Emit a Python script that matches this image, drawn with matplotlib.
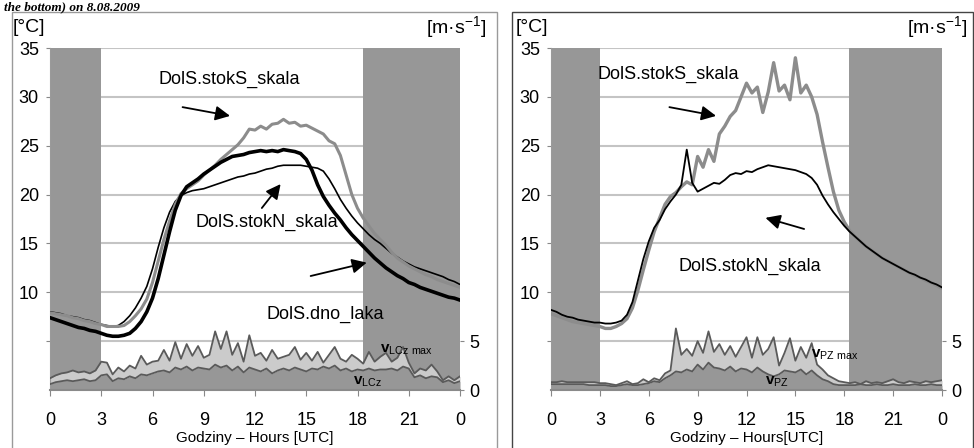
import numpy as np
import matplotlib
matplotlib.use("Agg")
import matplotlib.pyplot as plt
from matplotlib.patches import Rectangle

plt.rcParams['font.family'] = ['Liberation Sans', 'DejaVu Sans']
plt.rcParams['mathtext.fontset'] = 'custom'
plt.rcParams['mathtext.rm'] = 'Liberation Sans'
plt.rcParams['mathtext.bf'] = 'Liberation Sans:bold'

# 20-minute time steps, 0..24 h
hours = np.arange(73) / 3.0
xtick_pos = [0, 3, 6, 9, 12, 15, 18, 21, 24]
xtick_lab = ['0', '3', '6', '9', '12', '15', '18', '21', '0']
night = [(0, 3.0), (18.3, 24)]

# --- left panel: DolS ---
L_stokS = [7.9, 7.8, 7.7, 7.6, 7.4, 7.3, 7.1, 7.0, 6.8, 6.7,
           6.5, 6.5, 6.5, 6.6, 7.0, 7.6, 8.3, 9.3, 11.0, 13.2,
           15.4, 17.3, 19.0, 20.1, 20.6, 21.0, 21.4, 22.0, 22.5, 23.0,
           23.6, 24.1, 24.6, 25.1, 25.8, 26.7, 26.6, 27.0, 26.7, 27.2,
           27.3, 27.7, 27.3, 27.4, 27.0, 27.1, 26.8, 26.5, 26.2, 25.5,
           25.2, 24.0, 22.0, 20.0, 18.6, 17.6, 16.8, 16.0, 15.4, 14.8,
           14.1, 13.5, 13.1, 12.7, 12.4, 12.1, 11.8, 11.6, 11.3, 11.1,
           10.9, 10.7, 10.5]
L_stokN = [8.0, 7.9, 7.8, 7.6, 7.5, 7.4, 7.2, 7.1, 6.9, 6.7,
           6.6, 6.5, 6.6, 7.0, 7.6, 8.4, 9.4, 10.6, 12.4, 14.6,
           16.6, 18.2, 19.3, 19.9, 20.2, 20.4, 20.5, 20.6, 20.8, 21.0,
           21.2, 21.4, 21.6, 21.8, 21.9, 22.1, 22.2, 22.4, 22.6, 22.7,
           22.9, 23.0, 23.0, 23.0, 23.0, 22.9, 22.8, 22.7, 22.4, 21.6,
           20.6, 19.5, 18.6, 17.8, 17.1, 16.5, 15.9, 15.4, 15.0, 14.5,
           14.0, 13.6, 13.2, 12.9, 12.6, 12.4, 12.2, 12.0, 11.8, 11.6,
           11.3, 11.1, 10.8]
L_dno = [7.4, 7.2, 7.0, 6.8, 6.6, 6.4, 6.3, 6.1, 6.0, 5.8,
         5.6, 5.5, 5.5, 5.6, 5.8, 6.3, 7.0, 8.0, 9.4, 11.4,
         13.8, 16.2, 18.4, 19.9, 20.8, 21.2, 21.6, 22.1, 22.5, 22.9,
         23.3, 23.6, 23.9, 24.0, 24.1, 24.3, 24.4, 24.5, 24.4, 24.5,
         24.4, 24.6, 24.5, 24.4, 24.2, 23.6, 22.5, 21.0, 19.8, 18.9,
         18.1, 17.4, 16.6, 15.9, 15.3, 14.7, 14.1, 13.5, 13.0, 12.5,
         12.1, 11.7, 11.4, 11.0, 10.8, 10.5, 10.3, 10.1, 9.9, 9.7,
         9.5, 9.4, 9.2]
L_vmax = [1.2, 1.5, 1.7, 1.8, 2.0, 1.8, 1.9, 1.7, 2.0, 2.9,
          2.8, 1.6, 2.3, 1.9, 2.5, 2.2, 3.5, 2.6, 2.9, 3.0,
          4.1, 3.0, 4.9, 3.2, 4.7, 3.5, 4.5, 3.3, 3.6, 6.0,
          4.2, 6.0, 3.6, 4.8, 2.9, 5.6, 3.5, 3.8, 3.0, 4.1,
          3.2, 3.4, 3.6, 4.4, 3.1, 3.8, 3.0, 3.9, 2.8, 3.6,
          4.4, 3.2, 2.9, 3.6, 3.2, 2.7, 3.9, 2.9, 3.4, 3.8,
          2.9, 3.3, 4.4, 2.8, 1.7, 2.2, 2.0, 2.6, 1.9, 1.0,
          1.4, 1.0, 1.4]
L_v = [0.6, 0.8, 0.9, 1.0, 0.9, 1.0, 1.1, 0.9, 1.0, 1.5,
       1.6, 0.9, 1.2, 1.1, 1.4, 1.2, 1.6, 1.5, 1.7, 1.9,
       2.0, 1.8, 2.3, 2.1, 2.4, 2.0, 2.3, 2.2, 2.1, 2.6,
       2.3, 2.5, 2.0, 2.4, 1.8, 2.3, 2.1, 1.9, 2.2, 1.7,
       2.0, 2.2, 2.0, 2.3, 2.1, 1.9, 2.2, 2.1, 2.4, 2.2,
       2.5, 2.0, 2.2, 1.9, 2.1, 2.0, 2.2, 2.0, 2.1, 2.1,
       2.2, 2.0, 2.4, 2.2, 1.3, 1.5, 1.2, 1.4, 1.3, 0.8,
       1.0, 0.7, 0.9]

# --- right panel ---
R_stokS = [7.8, 7.6, 7.4, 7.2, 7.0, 6.9, 6.8, 6.7, 6.6, 6.5,
           6.3, 6.3, 6.5, 6.8, 7.3, 8.4, 10.2, 12.3, 14.3, 16.2,
           17.6, 19.0, 19.8, 20.2, 20.8, 21.3, 21.0, 23.9, 22.8, 24.6,
           23.4, 26.2, 27.0, 28.0, 28.6, 30.0, 31.4, 30.4, 31.0, 28.4,
           30.5, 33.5, 30.6, 31.2, 29.7, 34.0, 30.4, 31.2, 30.0, 28.2,
           25.4, 22.8, 20.3, 18.4, 17.2, 16.3, 15.7, 15.2, 14.7, 14.3,
           13.9, 13.5, 13.2, 12.9, 12.6, 12.3, 12.0, 11.7, 11.5, 11.2,
           11.0, 10.7, 10.4]
R_stokN = [8.2, 8.0, 7.7, 7.5, 7.4, 7.2, 7.1, 7.0, 6.9, 6.9,
           6.8, 6.8, 6.9, 7.1, 7.7, 9.0, 11.2, 13.4, 15.2, 16.6,
           17.4, 18.5, 19.3, 20.0, 21.0, 24.6, 21.2, 20.3, 20.6, 20.9,
           21.2, 21.1, 21.5, 22.0, 22.2, 22.1, 22.4, 22.3, 22.6, 22.8,
           23.0, 22.9, 22.8, 22.7, 22.6, 22.5, 22.3, 22.1, 21.7, 21.0,
           19.9, 19.0, 18.2, 17.5, 16.8, 16.2, 15.7, 15.2, 14.7, 14.3,
           13.9, 13.5, 13.2, 12.9, 12.6, 12.3, 12.0, 11.8, 11.5, 11.3,
           11.0, 10.8, 10.5]
R_vmax = [0.8, 0.8, 0.9, 0.8, 0.8, 0.8, 0.8, 0.8, 0.8, 0.7,
          0.7, 0.6, 0.5, 0.7, 0.9, 0.6, 0.7, 1.1, 0.8, 1.2,
          1.0, 1.7, 2.0, 6.3, 3.6, 4.2, 3.5, 5.0, 3.8, 6.0,
          3.9, 4.7, 3.6, 4.5, 3.4, 4.4, 5.4, 3.3, 5.4, 3.6,
          4.2, 5.4, 2.5, 3.8, 5.3, 3.0, 4.4, 3.3, 4.8, 2.6,
          2.1, 1.5, 1.2, 0.9, 0.8, 0.7, 0.8, 0.6, 0.9, 0.7,
          0.8, 0.7, 0.9, 1.1, 0.8, 0.7, 0.9, 0.8, 0.7, 0.9,
          0.8, 0.9, 1.0]
R_v = [0.6, 0.6, 0.6, 0.6, 0.6, 0.6, 0.6, 0.5, 0.5, 0.5,
       0.5, 0.4, 0.4, 0.5, 0.6, 0.5, 0.5, 0.6, 0.7, 0.9,
       0.8, 1.2, 1.5, 1.9, 1.8, 2.1, 1.9, 2.6, 2.1, 2.8,
       2.3, 2.2, 2.0, 2.4, 1.9, 2.2, 2.1, 1.8, 2.3, 1.9,
       1.6, 1.4, 1.6, 2.0, 1.9, 1.8, 2.1, 1.6, 2.0, 1.5,
       1.1, 0.9, 0.6, 0.5, 0.5, 0.5, 0.5, 0.6, 0.5, 0.5,
       0.6, 0.5, 0.5, 0.6, 0.5, 0.5, 0.5, 0.6, 0.5, 0.5,
       0.6, 0.5, 0.5]

SHADE = '#979797'
LIGHT = '#cbcbcb'
WLINE = '#5a5a5a'
GRAYL = '#8c8c8c'

fig = plt.figure(figsize=(9.74, 4.48), dpi=100)

# panel frames
fig.patches.append(Rectangle((12 / 974, -0.1), 485 / 974, 1.1 - 12 / 448,
                             transform=fig.transFigure, fill=False,
                             edgecolor='#9a9a9a', lw=1.0))
fig.patches.append(Rectangle((512 / 974, -0.1), 461 / 974, 1.1 - 12 / 448,
                             transform=fig.transFigure, fill=False,
                             edgecolor='#444444', lw=1.0))

fig.text(0.004, 1 - 10 / 448, 'the bottom) on 8.08.2009', family='Liberation Serif',
         fontweight='bold', style='italic', fontsize=9.5, va='baseline')


def panel(left, width, temps, vmax, v, xlabel):
    ax = fig.add_axes([left, 58 / 448, width, 342 / 448])
    ax.set_xlim(0, 24)
    ax.set_ylim(0, 35)
    ax.set_axisbelow(True)
    ax.grid(axis='y', color='#c4c4c4', lw=1.5)
    ax.grid(axis='x', visible=False)
    for a, b in night:
        ax.axvspan(a, b, color=SHADE, lw=0, zorder=1)
    ax.fill_between(hours, 0, v, color=SHADE, lw=0, zorder=2)
    ax.fill_between(hours, v, vmax, color=LIGHT, lw=0, zorder=2)
    ax.plot(hours, vmax, color=WLINE, lw=1.3, zorder=3)
    ax.plot(hours, v, color=WLINE, lw=1.3, zorder=3)
    for vals, col, lw in temps:
        ax.plot(hours, vals, color=col, lw=lw, zorder=4)

    ax.set_xticks(xtick_pos)
    ax.set_xticklabels(xtick_lab)
    ax.set_yticks([5, 10, 15, 20, 25, 30, 35])
    ax.set_yticklabels(['', '10', '15', '20', '25', '30', '35'])
    ax.tick_params(axis='x', direction='out', length=4, color='#888888',
                   labelsize=13, pad=12)
    ax.tick_params(axis='y', direction='out', length=3, color='#888888',
                   labelsize=13, pad=5)
    for s in ['top', 'right']:
        ax.spines[s].set_visible(False)
    ax.spines['left'].set_color('#9a9a9a')
    ax.spines['bottom'].set_color('#8a8a8a')
    ax.spines['bottom'].set_linewidth(1.5)
    ax.set_xlabel(xlabel, fontsize=11, labelpad=1)

    ax2 = ax.twinx()
    ax2.set_ylim(0, 35)
    ax2.set_yticks([0, 5])
    ax2.tick_params(axis='y', direction='out', length=3, color='#888888',
                    labelsize=13, pad=4)
    for s in ax2.spines.values():
        s.set_visible(False)

    ax.text(-0.09, 1.06, '[°C]', transform=ax.transAxes, fontsize=14,
            ha='left', va='center')
    ax.text(1.065, 1.06, '[m·s$^{-1}$]', transform=ax.transAxes, fontsize=14,
            ha='right', va='center')
    return ax


arrow = dict(arrowstyle='-|>', color='black', lw=1.3, mutation_scale=22)

# left
axL = panel(50 / 974, 410 / 974,
            [(L_stokN, 'black', 1.2), (L_stokS, GRAYL, 2.2), (L_dno, 'black', 2.6)],
            L_vmax, L_v, 'Godziny – Hours [UTC]')
axL.text(10.5, 31.8, 'DolS.stokS_skala', fontsize=13, ha='center', va='center', zorder=6)
axL.annotate('', xy=(10.7, 28.0), xytext=(7.6, 29.0), arrowprops=arrow, zorder=6)
axL.text(12.7, 17.2, 'DolS.stokN_skala', fontsize=13, ha='center', va='center', zorder=6)
axL.annotate('', xy=(13.6, 21.3), xytext=(12.3, 18.4), arrowprops=arrow, zorder=6)
axL.text(16.1, 7.7, 'DolS.dno_laka', fontsize=13, ha='center', va='center', zorder=6)
axL.annotate('', xy=(18.7, 13.1), xytext=(15.1, 11.6), arrowprops=arrow, zorder=6)
axL.text(20.9, 4.1, r'$\mathbf{v}_{\mathrm{LCz\ max}}$', fontsize=11, ha='center', va='center', zorder=6)
axL.text(18.6, 0.9, r'$\mathbf{v}_{\mathrm{LCz}}$', fontsize=11, ha='center', va='center', zorder=6)

# right
axR = panel(551 / 974, 391 / 974,
            [(R_stokS, GRAYL, 2.4), (R_stokN, 'black', 1.3)],
            R_vmax, R_v, 'Godziny – Hours[UTC]')
axR.text(7.2, 32.3, 'DolS.stokS_skala', fontsize=13, ha='center', va='center', zorder=6)
axR.annotate('', xy=(10.3, 28.0), xytext=(7.1, 29.0), arrowprops=arrow, zorder=6)
axR.text(12.2, 12.6, 'DolS.stokN_skala', fontsize=13, ha='center', va='center', zorder=6)
axR.annotate('', xy=(13.0, 17.7), xytext=(15.7, 16.4), arrowprops=arrow, zorder=6)
axR.text(17.4, 3.6, r'$\mathbf{v}_{\mathrm{PZ\ max}}$', fontsize=11, ha='center', va='center', zorder=6)
axR.text(13.9, 0.9, r'$\mathbf{v}_{\mathrm{PZ}}$', fontsize=11, ha='center', va='center', zorder=6)

fig.savefig('out.png', dpi=100)
